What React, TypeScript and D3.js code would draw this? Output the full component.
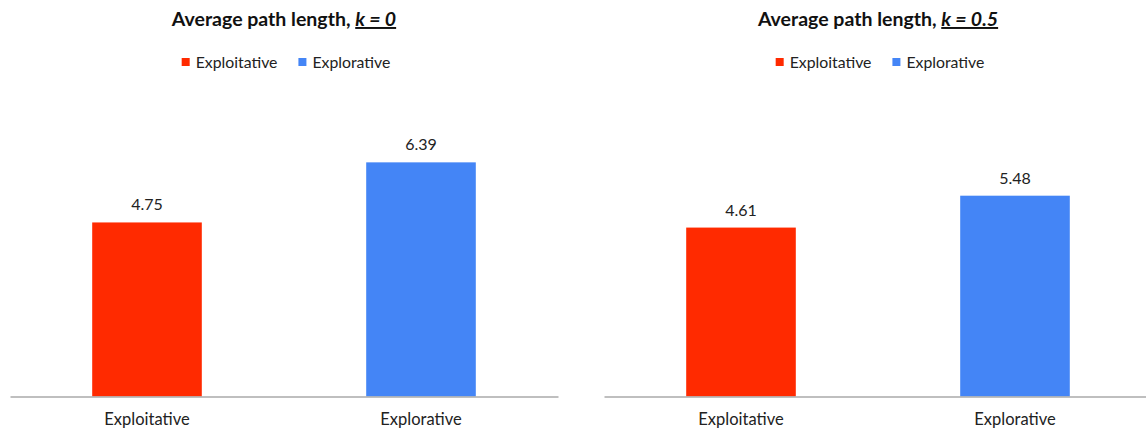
import React, { useEffect, useRef } from 'react';
import * as d3 from 'd3';

const categories = ["Exploitative", "Explorative"];
const colors = ["#ff2a00", "#4485f6"];
const valuesK0 = [4.75, 6.39];
const valuesK05 = [4.61, 5.48];
const panelTitles = ["k = 0", "k = 0.5"];

const W = 1146;
const H = 434;
const FONT = "Lato, 'Open Sans', sans-serif";

const App = () => {
  const ref = useRef<SVGSVGElement | null>(null);

  useEffect(() => {
    if (!ref.current) return;
    const svg = d3.select(ref.current);
    svg.selectAll("*").remove();

    const panelWidth = 548;
    const marginTop = 140;
    const axisY = 396.5;

    const y = d3.scaleLinear().domain([0, 7]).range([axisY, marginTop]);

    const drawPanel = (x0: number, values: number[], kText: string) => {
      const g = svg.append("g").attr("transform", `translate(${x0},0)`);
      const x = d3.scaleBand().domain(categories).range([0, panelWidth]);
      const barW = x.bandwidth() * 0.4;
      const cx = panelWidth / 2;

      // title
      const title = g.append("text")
        .attr("x", cx)
        .attr("y", 26)
        .attr("text-anchor", "middle")
        .attr("font-family", FONT)
        .attr("font-size", 19.5)
        .attr("font-weight", "bold")
        .attr("fill", "#111");
      title.append("tspan").text("Average path length, ");
      title.append("tspan")
        .attr("font-style", "italic")
        .attr("text-decoration", "underline")
        .text(kText);

      // legend
      const legend = g.append("g");
      let lx = 0;
      categories.forEach((c, i) => {
        legend.append("rect")
          .attr("x", lx).attr("y", 58).attr("width", 8).attr("height", 8)
          .attr("fill", colors[i]);
        const t = legend.append("text")
          .attr("x", lx + 14).attr("y", 68)
          .attr("font-family", FONT).attr("font-size", 15.8)
          .attr("fill", "#222")
          .text(c);
        const tw = (t.node() as SVGTextElement).getComputedTextLength();
        lx += 14 + tw + 21;
      });
      const lw = lx - 21;
      legend.attr("transform", `translate(${cx - lw / 2 + 2},0)`);

      // bars
      g.selectAll("rect.bar")
        .data(values)
        .join("rect")
        .attr("class", "bar")
        .attr("x", (_d, i) => x(categories[i])! + (x.bandwidth() - barW) / 2)
        .attr("y", d => y(d))
        .attr("width", barW)
        .attr("height", d => axisY - y(d))
        .attr("fill", (_d, i) => colors[i]);

      // value labels
      g.selectAll("text.val")
        .data(values)
        .join("text")
        .attr("class", "val")
        .attr("x", (_d, i) => x(categories[i])! + x.bandwidth() / 2)
        .attr("y", d => y(d) - 12)
        .attr("text-anchor", "middle")
        .attr("font-family", FONT)
        .attr("font-size", 16)
        .attr("fill", "#222")
        .text(d => d.toFixed(2));

      // axis
      g.append("g")
        .attr("transform", `translate(0,${axisY})`)
        .call(d3.axisBottom(x).tickSize(0).tickPadding(17))
        .call(a => a.select(".domain").attr("stroke", "#aaa").attr("stroke-width", 1.5))
        .call(a => a.selectAll(".tick text")
          .attr("font-family", FONT)
          .attr("font-size", 16.5)
          .attr("fill", "#222"));
    };

    drawPanel(10, valuesK0, panelTitles[0]);
    drawPanel(604, valuesK05, panelTitles[1]);
  }, []);

  return (
    <svg
      ref={ref}
      width={W}
      height={H}
      style={{ position: "absolute", left: 0, top: 0, background: "#fff" }}
    />
  );
};

export default App;
